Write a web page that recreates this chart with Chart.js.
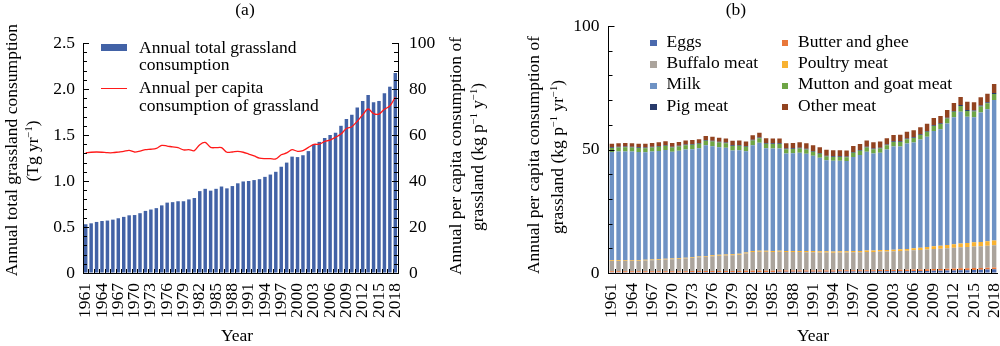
<!DOCTYPE html>
<html>
<head>
<meta charset="utf-8">
<script src="https://cdn.jsdelivr.net/npm/chart.js@4.4.1/dist/chart.umd.min.js"></script>
<style>
html,body{margin:0;padding:0;background:#fff;overflow:hidden}
#wrap{position:relative;width:1000px;height:346px;font-family:'Liberation Serif','Times New Roman',serif;color:#000}
canvas{position:absolute;top:0}
.t{position:absolute;white-space:nowrap;font-size:17.5px;line-height:20px;height:20px}
.r{transform:translate(-50%,-50%) rotate(-90deg)}
.c{transform:translateX(-50%)}
sup{font-size:0.6em;vertical-align:0;position:relative;top:-0.6em;line-height:0}
.sw{position:absolute}
</style>
</head>
<body>
<div id="wrap">
  <canvas id="chartA" width="500" height="346" style="left:0"></canvas>
  <canvas id="chartB" width="500" height="346" style="left:500px"></canvas>
</div>
<script>
// years 1961-2018
const years = ['1961','1962','1963','1964','1965','1966','1967','1968','1969','1970',
  '1971','1972','1973','1974','1975','1976','1977','1978','1979','1980',
  '1981','1982','1983','1984','1985','1986','1987','1988','1989','1990',
  '1991','1992','1993','1994','1995','1996','1997','1998','1999','2000',
  '2001','2002','2003','2004','2005','2006','2007','2008','2009','2010',
  '2011','2012','2013','2014','2015','2016','2017','2018'];
const shownYears = ['1961','1964','1967','1970','1973','1976','1979','1982','1985','1988',
  '1991','1994','1997','2000','2003','2006','2009','2012','2015','2018'];

// panel (a): Tg yr-1
const totalCons = [0.53,0.54,0.555,0.565,0.57,0.58,0.595,0.61,0.627,0.63,
  0.65,0.675,0.69,0.705,0.735,0.765,0.77,0.78,0.78,0.80,
  0.815,0.89,0.915,0.895,0.915,0.94,0.92,0.945,0.975,0.995,
  1.0,1.01,1.02,1.045,1.07,1.10,1.155,1.20,1.265,1.26,
  1.28,1.325,1.395,1.425,1.467,1.50,1.525,1.60,1.675,1.72,
  1.80,1.87,1.935,1.855,1.87,1.955,2.025,2.175];
// panel (a): kg p-1 y-1
const perCapita = [52.3,52.5,52.6,52.5,52.3,52.3,52.6,52.9,53.3,52.6,
  53.0,53.6,53.8,54.2,55.5,55.2,54.8,54.5,53.5,53.6,
  53.2,55.8,56.8,54.6,54.5,54.5,52.5,52.6,52.9,52.5,
  51.7,50.9,49.9,49.7,49.7,49.6,51.4,52.2,53.6,52.9,
  53.2,54.6,55.9,56.0,57.2,57.8,59.0,60.4,62.8,63.6,
  66.0,68.8,71.3,69.3,69.1,71.2,72.6,76.5];

// panel (b): kg p-1 yr-1 by product
const eggs = [0.3,0.3,0.3,0.3,0.3,0.3,0.3,0.3,0.3,0.3,
  0.3,0.3,0.4,0.4,0.4,0.4,0.4,0.4,0.4,0.4,
  0.4,0.4,0.4,0.4,0.4,0.5,0.5,0.5,0.5,0.5,
  0.5,0.5,0.5,0.5,0.6,0.6,0.6,0.6,0.6,0.6,
  0.7,0.7,0.7,0.7,0.7,0.8,0.8,0.8,0.9,0.9,
  1.0,1.0,1.1,1.1,1.2,1.3,1.4,1.5];
const butter = [0.4,0.4,0.4,0.4,0.4,0.4,0.4,0.4,0.4,0.4,
  0.4,0.4,0.4,0.4,0.4,0.4,0.4,0.4,0.4,0.4,
  0.5,0.5,0.5,0.5,0.5,0.5,0.5,0.5,0.5,0.5,
  0.5,0.5,0.5,0.5,0.5,0.5,0.5,0.5,0.5,0.5,
  0.5,0.5,0.5,0.6,0.6,0.6,0.6,0.7,0.7,0.7,
  0.7,0.8,0.8,0.8,0.8,0.7,0.7,0.7];
const buffalo = [4.2,4.2,4.3,4.3,4.3,4.4,4.5,4.6,4.8,4.9,
  5.0,5.2,5.4,5.6,5.8,6.0,6.2,6.3,6.4,6.6,
  7.0,7.6,7.7,7.7,7.6,7.6,7.5,7.5,7.5,7.4,
  7.4,7.3,7.3,7.2,7.2,7.2,7.3,7.3,7.4,7.4,
  7.5,7.5,7.6,7.6,7.7,7.8,7.9,8.0,8.1,8.2,
  8.3,8.4,8.5,8.6,8.7,8.8,8.9,9.0];
const poultry = [0.3,0.3,0.3,0.3,0.3,0.3,0.3,0.3,0.3,0.3,
  0.3,0.3,0.3,0.3,0.3,0.4,0.4,0.4,0.4,0.4,
  0.4,0.4,0.4,0.4,0.4,0.4,0.4,0.4,0.4,0.5,
  0.5,0.5,0.5,0.5,0.5,0.5,0.5,0.5,0.6,0.6,
  0.6,0.6,0.6,0.7,0.7,0.8,0.9,1.0,1.1,1.2,
  1.3,1.4,1.5,1.6,1.7,1.8,1.9,2.0];
const milk = [43.8,44.0,43.9,43.9,43.7,43.5,43.7,43.8,44.0,43.2,
  43.5,43.8,43.6,43.8,44.8,44.1,43.5,43.2,42.0,41.9,
  41.0,42.8,43.7,41.5,41.5,41.4,39.5,39.6,39.8,39.4,
  38.6,37.9,36.8,36.7,36.6,36.5,38.1,38.9,40.0,39.3,
  39.4,40.7,41.8,41.6,42.7,42.8,43.8,44.7,46.7,47.2,
  49.2,51.5,53.4,51.2,50.7,52.4,53.4,56.8];
const mutton = [1.6,1.6,1.7,1.6,1.6,1.6,1.6,1.7,1.7,1.7,
  1.7,1.7,1.8,1.8,1.8,1.9,1.9,1.8,1.8,1.8,
  1.8,1.9,1.9,1.8,1.8,1.8,1.7,1.7,1.7,1.7,
  1.6,1.6,1.6,1.6,1.6,1.6,1.7,1.7,1.7,1.7,
  1.7,1.7,1.8,1.8,1.8,1.9,1.9,2.0,2.0,2.1,
  2.1,2.2,2.3,2.3,2.3,2.4,2.4,2.5];
const pig = [0.3,0.3,0.3,0.3,0.3,0.3,0.3,0.3,0.3,0.3,
  0.3,0.3,0.3,0.3,0.3,0.3,0.3,0.3,0.3,0.3,
  0.3,0.3,0.3,0.3,0.3,0.3,0.3,0.3,0.3,0.3,
  0.3,0.3,0.3,0.3,0.3,0.3,0.3,0.3,0.3,0.3,
  0.3,0.3,0.3,0.3,0.3,0.3,0.3,0.3,0.3,0.3,
  0.3,0.3,0.4,0.4,0.4,0.4,0.4,0.4];
const otherMeat = [1.4,1.4,1.4,1.4,1.4,1.5,1.5,1.5,1.5,1.5,
  1.5,1.6,1.6,1.6,1.7,1.7,1.7,1.7,1.8,1.8,
  1.8,1.9,1.9,2.0,2.0,2.0,2.1,2.1,2.2,2.2,
  2.3,2.3,2.4,2.4,2.4,2.4,2.4,2.4,2.5,2.5,
  2.5,2.6,2.6,2.7,2.7,2.8,2.8,2.9,3.0,3.0,
  3.1,3.2,3.3,3.3,3.3,3.4,3.5,3.6];

const productNames = ['Eggs','Butter and ghee','Buffalo meat','Poultry meat','Milk','Mutton and goat meat','Pig meat','Other meat'];
const productData = [eggs, butter, buffalo, poultry, milk, mutton, pig, otherMeat];
const productColors = ['#4a69ad','#e9773a','#aba49c','#f8b232','#6e92c4','#6ea545','#283a6a','#924320'];

Chart.defaults.font.family = "'Liberation Serif', 'Times New Roman', serif";
Chart.defaults.font.size = 17.5;
Chart.defaults.color = '#000';

// short tick marks drawn inside the plot frame
const inTicks = {
  id: 'inTicks',
  afterDatasetsDraw(chart, args, opts) {
    const ctx = chart.ctx;
    ctx.save();
    ctx.strokeStyle = '#000';
    ctx.lineWidth = 1;
    ctx.beginPath();
    opts.axes.forEach(a => {
      const sc = chart.scales[a.id];
      if (a.id === 'x') {
        for (let i = 0; i < years.length - 1; i++) {
          const p = Math.round((sc.getPixelForValue(i) + sc.getPixelForValue(i + 1)) / 2) + 0.5;
          ctx.moveTo(p, sc.top);
          ctx.lineTo(p, sc.top - a.len);
        }
        return;
      }
      const edge = a.side === 'left' ? sc.right : sc.left;
      const dir = a.side === 'left' ? 1 : -1;
      for (let k = 0; k <= a.count; k++) {
        const p = Math.round(sc.getPixelForValue(a.min + k * a.step)) + 0.5;
        const len = k % a.every === 0 ? a.major : a.minor;
        ctx.moveTo(edge, p);
        ctx.lineTo(edge + dir * len, p);
      }
    });
    ctx.stroke();
    ctx.restore();
  }
};

const xTicks = {
  autoSkip: false, maxRotation: 90, minRotation: 90, padding: 10,
  callback: function(v, i) { return shownYears.includes(years[i]) ? years[i] : ''; }
};
const noGrid = {display: true, drawOnChartArea: false, drawTicks: false};
const blackBorder = {display: true, color: '#000', width: 1};

new Chart(document.getElementById('chartA'), {
  type: 'bar',
  data: {
    labels: years,
    datasets: [
      {type: 'line', label: 'Annual per capita consumption of grassland', data: perCapita, yAxisID: 'y2',
       borderColor: '#ff1a1a', borderWidth: 1.3, pointRadius: 0, tension: 0.3, order: 0},
      {type: 'bar', label: 'Annual total grassland consumption', data: totalCons, yAxisID: 'y',
       backgroundColor: '#4262a6', barPercentage: 0.64, categoryPercentage: 1, order: 1}
    ]
  },
  options: {
    responsive: false,
    animation: false,
    layout: {padding: {top: 43, left: 0, right: 0, bottom: 0}},
    plugins: {
      legend: {display: false},
      tooltip: {enabled: false},
      inTicks: {axes: [
        {id: 'x', len: 4},
        {id: 'y', side: 'left', min: 0, step: 0.1, count: 25, every: 5, minor: 4, major: 6},
        {id: 'y2', side: 'right', min: 0, step: 4, count: 25, every: 5, minor: 4, major: 6}
      ]}
    },
    scales: {
      x: {grid: noGrid, border: blackBorder, ticks: xTicks,
          afterFit: s => { s.height = 73; s.paddingLeft = 0; s.paddingRight = 0; }},
      y: {position: 'left', min: 0, max: 2.5, grid: noGrid, border: blackBorder,
          ticks: {stepSize: 0.5, padding: 8, callback: v => v === 0 ? '0' : v.toFixed(1)},
          afterFit: s => { s.width = 83; }},
      y2: {position: 'right', min: 0, max: 100, grid: noGrid, border: blackBorder,
           ticks: {stepSize: 20, padding: 11},
           afterFit: s => { s.width = 102; }}
    }
  },
  plugins: [inTicks]
});

new Chart(document.getElementById('chartB'), {
  type: 'bar',
  data: {
    labels: years,
    datasets: productNames.map((n, k) => ({
      label: n, data: productData[k], backgroundColor: productColors[k],
      barPercentage: 0.66, categoryPercentage: 1
    }))
  },
  options: {
    responsive: false,
    animation: false,
    layout: {padding: {top: 26, left: 0, right: 2.5, bottom: 0}},
    plugins: {
      legend: {display: false},
      tooltip: {enabled: false},
      inTicks: {axes: [
        {id: 'x', len: 4},
        {id: 'y', side: 'left', min: 0, step: 10, count: 10, every: 5, minor: 4, major: 6}
      ]}
    },
    scales: {
      x: {stacked: true, grid: noGrid, border: blackBorder, ticks: xTicks,
          afterFit: s => { s.height = 73; s.paddingLeft = 0; s.paddingRight = 0; }},
      y: {stacked: true, position: 'left', min: 0, max: 100, grid: noGrid, border: blackBorder,
          ticks: {stepSize: 50, padding: 9},
          afterFit: s => { s.width = 108.5; }}
    }
  },
  plugins: [inTicks]
});

// text placed by baseline (line-height 20px -> baseline 15.9px below top)
const wrap = document.getElementById('wrap');
function put(html, x, base, cls) {
  const d = document.createElement('div');
  d.className = 't ' + (cls || '');
  d.innerHTML = html;
  d.style.left = x + 'px';
  d.style.top = (base - 15.9) + 'px';
  wrap.appendChild(d);
}
function putRot(html, baseX, cy) {
  const d = document.createElement('div');
  d.className = 't r';
  d.innerHTML = html;
  d.style.left = (baseX - 5.9) + 'px';
  d.style.top = cy + 'px';
  wrap.appendChild(d);
}
function swatch(x, y, w, h, color) {
  const d = document.createElement('div');
  d.className = 'sw';
  d.style.cssText = 'left:' + x + 'px;top:' + y + 'px;width:' + w + 'px;height:' + h + 'px;background:' + color;
  wrap.appendChild(d);
}

// panel labels and axis titles
put('(a)', 245, 15, 'c');
put('(b)', 736, 15, 'c');
put('Year', 237, 341, 'c');
put('Year', 813, 341, 'c');
putRot('Annual total grassland consumption', 17, 150);
putRot('(Tg yr<sup>&minus;1</sup>)', 38, 151);
putRot('Annual per capita consumption of', 461, 156);
putRot('grassland (kg p<sup>&minus;1</sup> y<sup>&minus;1</sup>)', 483, 157);
putRot('Annual per capita consumption of', 539, 155);
putRot('grassland (kg p<sup>&minus;1</sup> yr<sup>&minus;1</sup>)', 563, 157);

// legend (a)
swatch(101, 43.5, 26, 7, '#4262a6');
put('Annual total grassland', 139, 53.3);
put('consumption', 139, 69.5);
swatch(101, 87.6, 26, 1.4, '#ff1a1a');
put('Annual per capita', 139, 92.7);
put('consumption of grassland', 139, 110.7);

// legend (b), two columns
productNames.forEach((n, k) => {
  const col = k % 2, row = Math.floor(k / 2);
  const sx = col === 0 ? 650 : 781.5;
  const base = 46.7 + row * 21.3;
  swatch(sx, base - 6.8, 6.5, 6.5, productColors[k]);
  put(n, sx + 16.5, base);
});
</script>
</body>
</html>
